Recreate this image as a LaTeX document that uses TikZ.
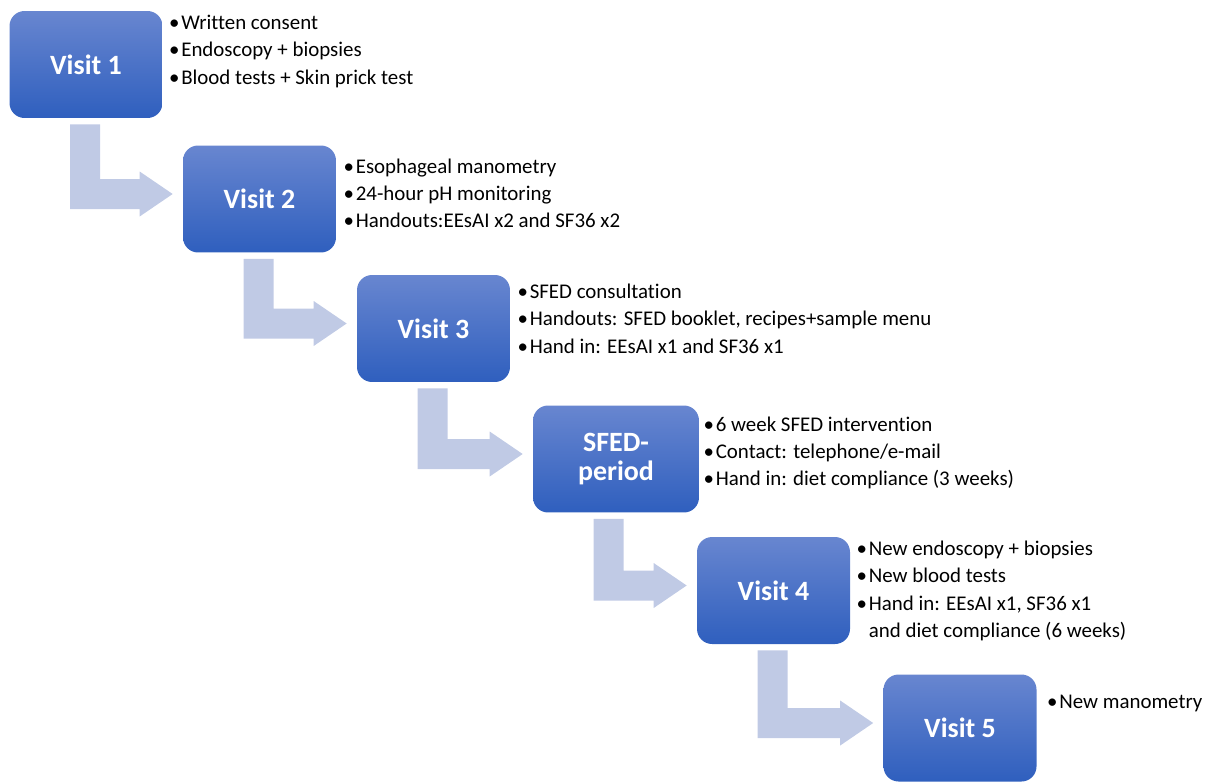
\documentclass[tikz,border=0pt]{standalone}
\usepackage{fontspec}
\setmainfont{Carlito}[Ligatures=NoCommon]
\usetikzlibrary{positioning,calc}

\definecolor{boxtop}{RGB}{104,134,208}
\definecolor{boxbot}{RGB}{47,95,190}
\definecolor{bendfill}{RGB}{192,202,229}
\newcommand{\bitem}{\makebox[0.58em][l]{\textbullet}}

\begin{document}
\begin{tikzpicture}[x=0.02cm, y=-0.02cm,
  visit/.style={rounded corners=0.3cm,top color=boxtop,bottom color=boxbot,minimum width=3.06cm,minimum height=2.14cm,
    align=center,text=white,font=\fontsize{15.9}{17}\selectfont\bfseries},
  list/.style={anchor=north west,inner sep=0pt,align=left,font=\fontsize{11.9}{15.6}\selectfont},
  bendarrow/.style={fill=bendfill}]
\useasboundingbox (0,0) rectangle (1212,781);
\node[visit](v1) at (86,64.5){Visit 1};
\node[visit](v2) at (259.5,199){Visit 2};
\node[visit](v3) at (433.5,328.5){Visit 3};
\node[visit,minimum width=3.32cm](sfed) at (616,459){SFED-\\period};
\node[visit](v4) at (773.5,590.5){Visit 4};
\node[visit](v5) at (960,728){Visit 5};
% bullet lists beside the boxes
\node[list](l1) at ($(v1.north east)+(6,4)$){\bitem Written consent\\\bitem Endoscopy + biopsies\\\bitem Blood tests + Skin prick test};
\node[list](l2) at ($(v2.north east)+(7,13)$){\bitem Esophageal manometry\\\bitem 24-hour pH monitoring\\\bitem Handouts:EEsAI x2 and SF36 x2};
\node[list](l3) at ($(v3.north east)+(7,9)$){\bitem SFED consultation\\\bitem Handouts: SFED booklet, recipes+sample menu\\\bitem Hand in: EEsAI x1 and SF36 x1};
\node[list](l4) at ($(sfed.north east)+(4,11)$){\bitem 6 week SFED intervention\\\bitem Contact: telephone/e-mail\\\bitem Hand in: diet compliance (3 weeks)};
\node[list](l5) at ($(v4.north east)+(6,4)$){\bitem New endoscopy + biopsies\\\bitem New blood tests\\\bitem Hand in: EEsAI x1, SF36 x1\\\hspace*{0.58em}and diet compliance (6 weeks)};
\node[list](l6) at ($(v5.north east)+(10,21)$){\bitem New manometry};
% bent arrows from box to box
\foreach \a/\b in {v1/v2,v2/v3,v3/sfed,sfed/v4,v4/v5}{
  \coordinate (t) at ($(\b.west)+(-10,-5)$);
  \fill[bendarrow] ($(\a.south west)+(61,6)$) coordinate (s) -- ++(30,0) |- ($(t)+(-33,-15)$) -- ++(0,-7.5) -- (t)
    -- ($(t)+(-33,22.5)$) -- ++(0,-7.5) -| (s) -- cycle;
}
\end{tikzpicture}
\end{document}
